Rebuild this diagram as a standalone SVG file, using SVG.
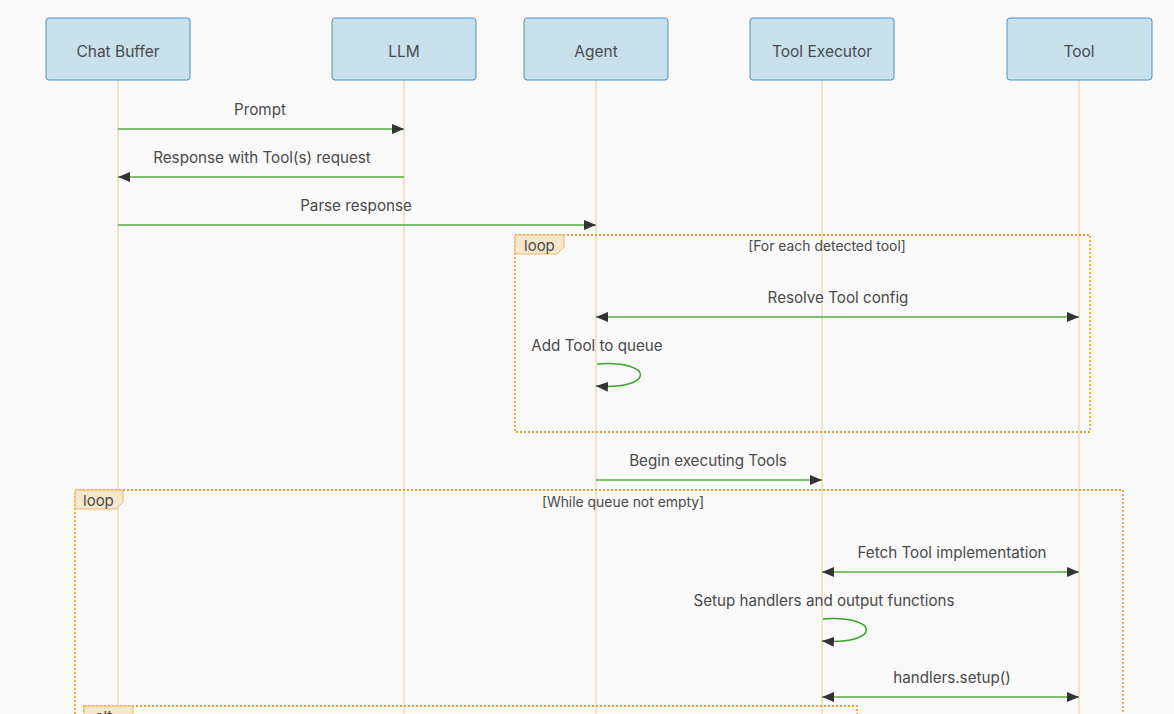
<svg xmlns="http://www.w3.org/2000/svg" width="1174" height="714" viewBox="0 0 1174 714">
<defs>
<style>
.actor{fill:#c8e0ec;stroke:#4b90c6;stroke-width:1;}
.atext{font-family:Inter,"Liberation Sans",sans-serif;font-size:15.5px;fill:#4a4a4a;text-anchor:middle;dominant-baseline:central;}
.life{stroke:#f0dbb0;stroke-width:1.5;}
.msg{stroke:#58ad45;stroke-width:1.5;fill:none;}
.self{stroke:#3ba32a;stroke-width:1.5;fill:none;}
.mtext{font-family:Inter,"Liberation Sans",sans-serif;font-size:15.2px;fill:#4a4a4a;text-anchor:middle;}
.frame{fill:none;stroke:#eda030;stroke-width:1.8;stroke-dasharray:2 2;}
.flabel{fill:#f5e7cc;stroke:#e9b865;stroke-width:1;}
.ftext{font-family:Inter,"Liberation Sans",sans-serif;font-size:15px;fill:#4a4a4a;}
.ctext{font-family:Inter,"Liberation Sans",sans-serif;font-size:13.9px;fill:#4a4a4a;text-anchor:middle;}
</style>
<marker id="ah" viewBox="0 0 12 10" refX="12" refY="5" markerWidth="12" markerHeight="10" markerUnits="userSpaceOnUse" orient="auto-start-reverse">
<path d="M0,0 L12,5 L0,10 z" fill="#333"/>
</marker>
</defs>
<rect width="1174" height="714" fill="#f9f9f9"/>
<g id="lifelines">
<line class="life" x1="118" y1="80" x2="118" y2="714"/>
<line class="life" x1="404" y1="80" x2="404" y2="714"/>
<line class="life" x1="596" y1="80" x2="596" y2="714"/>
<line class="life" x1="822" y1="80" x2="822" y2="714"/>
<line class="life" x1="1079" y1="80" x2="1079" y2="714"/>
</g>
<g id="chatbuffer"><rect class="actor" x="46" y="18" width="144" height="62" rx="3"/><text class="atext" x="118" y="51">Chat Buffer</text></g>
<g id="llm"><rect class="actor" x="332" y="18" width="144" height="62" rx="3"/><text class="atext" x="404" y="51">LLM</text></g>
<g id="agent"><rect class="actor" x="524" y="18" width="144" height="62" rx="3"/><text class="atext" x="596" y="51">Agent</text></g>
<g id="toolexecutor"><rect class="actor" x="750" y="18" width="144" height="62" rx="3"/><text class="atext" x="822" y="51">Tool Executor</text></g>
<g id="tool"><rect class="actor" x="1007" y="18" width="145" height="62" rx="3"/><text class="atext" x="1079" y="51">Tool</text></g>
<g id="frames">
<rect class="frame" x="515" y="235" width="575" height="197"/>
<path class="flabel" d="M515,235 H564 V247 L557,254 H515 Z"/>
<text class="ftext" x="524" y="251">loop</text>
<text class="ctext" x="827" y="251">[For each detected tool]</text>
<rect class="frame" x="75" y="490" width="1048" height="240"/>
<path class="flabel" d="M75,490 H123 V502 L116,509 H75 Z"/>
<text class="ftext" x="83" y="506">loop</text>
<text class="ctext" x="623" y="507">[While queue not empty]</text>
<rect class="frame" x="84" y="706" width="773" height="40"/>
<path class="flabel" d="M84,706 H133 V718 L126,725 H84 Z"/>
<text class="ftext" x="95" y="722">alt</text>
</g>
<g id="connectors">
<line class="msg" x1="118" y1="129" x2="404" y2="129" marker-end="url(#ah)"/>
<text class="mtext" x="260" y="115">Prompt</text>
<line class="msg" x1="404" y1="177" x2="118" y2="177" marker-end="url(#ah)"/>
<text class="mtext" x="262" y="163">Response with Tool(s) request</text>
<line class="msg" x1="118" y1="225" x2="596" y2="225" marker-end="url(#ah)"/>
<text class="mtext" x="356" y="211">Parse response</text>
<line class="msg" x1="596" y1="317" x2="1079" y2="317" marker-start="url(#ah)" marker-end="url(#ah)"/>
<text class="mtext" x="838" y="303">Resolve Tool config</text>
<path class="self" d="M597,364 C655,360 655,390 596,386" marker-end="url(#ah)"/>
<text class="mtext" x="597" y="351">Add Tool to queue</text>
<line class="msg" x1="596" y1="480" x2="822" y2="480" marker-end="url(#ah)"/>
<text class="mtext" x="708" y="466">Begin executing Tools</text>
<line class="msg" x1="822" y1="572" x2="1079" y2="572" marker-start="url(#ah)" marker-end="url(#ah)"/>
<text class="mtext" x="952" y="558">Fetch Tool implementation</text>
<path class="self" d="M823,619 C881,615 881,645 822,641" marker-end="url(#ah)"/>
<text class="mtext" x="824" y="606">Setup handlers and output functions</text>
<line class="msg" x1="822" y1="697" x2="1079" y2="697" marker-start="url(#ah)" marker-end="url(#ah)"/>
<text class="mtext" x="952" y="683">handlers.setup()</text>
</g>
</svg>
